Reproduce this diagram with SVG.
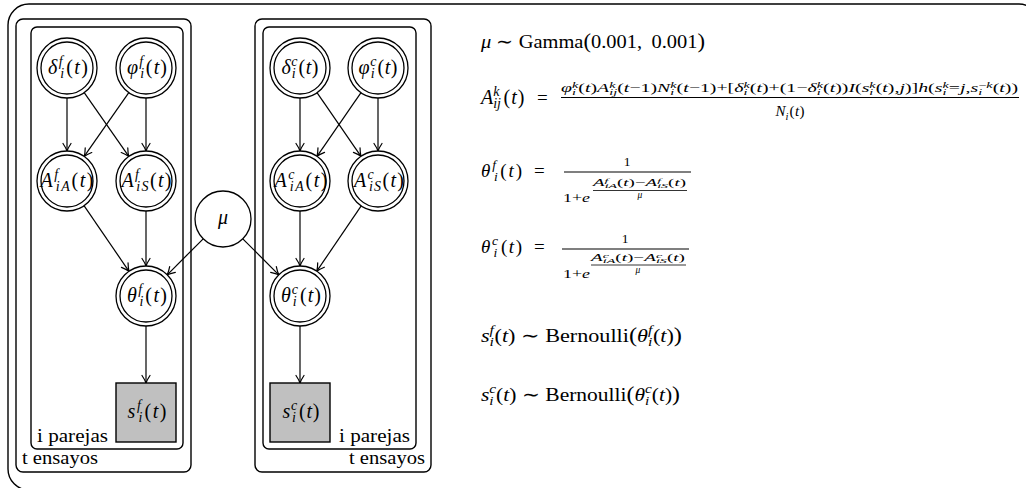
<svg xmlns="http://www.w3.org/2000/svg" width="1026" height="488" viewBox="0 0 1026 488">
<defs>
<style>
text{font-family:"Liberation Serif","Times New Roman",serif;fill:#000}
.i{font-style:italic}
.lb{font-size:20px}
.s{font-size:14px}
.pl{font-size:19px}
.eq{font-size:19px}
.eb{font-size:20px}
.es{font-size:13.5px}
.bp{font-size:21px}
.n{font-size:12.5px}
.ns{font-size:9px}
.fn{font-size:13.5px}
.dn{font-size:15px}
.dns{font-size:10.5px}
.xn{font-size:9.5px}
.x{font-size:7px}
.frame{fill:none;stroke:#000;stroke-width:1.4}
.plate{fill:none;stroke:#000;stroke-width:1.4}
.oc{fill:#fff;stroke:#000;stroke-width:1.3}
.ic{fill:none;stroke:#000;stroke-width:1.3}
.obs{fill:#c0c0c0;stroke:#000;stroke-width:1.4}
.e{fill:none;stroke:#000;stroke-width:1.2;marker-end:url(#ah)}
.bar{stroke:#000;stroke-width:1.1}
.sbar{stroke:#000;stroke-width:0.8}
</style>
<marker id="ah" markerUnits="userSpaceOnUse" viewBox="-9 -5 10 10" refX="0" refY="0" markerWidth="10" markerHeight="10" orient="auto">
<path d="M-7.5,-4 Q-3,-1 0,0 Q-3,1 -7.5,4" fill="none" stroke="#000" stroke-width="1.2" stroke-linecap="round"/>
</marker>
</defs>

<!-- outer frame -->
<rect class="frame" x="8" y="4" width="1032" height="486" rx="21"/>

<!-- plates -->
<g id="plates">
<rect class="plate" x="16" y="19" width="175" height="453" rx="7"/>
<rect class="plate" x="31" y="27" width="152" height="422" rx="6"/>
<rect class="plate" x="255" y="19" width="176" height="453" rx="7"/>
<rect class="plate" x="263" y="27" width="153" height="422" rx="6"/>
<text class="pl" x="37" y="442" textLength="71" lengthAdjust="spacingAndGlyphs">i parejas</text>
<text class="pl" x="22" y="464" textLength="76" lengthAdjust="spacingAndGlyphs">t ensayos</text>
<text class="pl" x="410" y="442" text-anchor="end" textLength="71" lengthAdjust="spacingAndGlyphs">i parejas</text>
<text class="pl" x="425" y="464" text-anchor="end" textLength="76" lengthAdjust="spacingAndGlyphs">t ensayos</text>
</g>

<!-- connectors -->
<g id="edges">
<path class="e" d="M67,98 L67,151"/>
<path class="e" d="M84.2,92.6 L128.8,156.4"/>
<path class="e" d="M128.8,92.6 L84.2,156.4"/>
<path class="e" d="M146,98 L146,151"/>
<path class="e" d="M84,205.7 L129,271.3"/>
<path class="e" d="M146,211 L146,266"/>
<path class="e" d="M203.2,238.8 L167.2,274.8"/>
<path class="e" d="M242.8,238.8 L278.8,274.8"/>
<path class="e" d="M300,211 L300,266"/>
<path class="e" d="M361.2,205.8 L316.8,271.2"/>
<path class="e" d="M300,98 L300,151"/>
<path class="e" d="M317,92.7 L361,156.3"/>
<path class="e" d="M361,92.7 L317,156.3"/>
<path class="e" d="M378,98 L378,151"/>
<path class="e" d="M146,326 L146,383"/>
<path class="e" d="M300,326 L300,383"/>
</g>

<!-- left column: f -->
<g id="delta-f">
<circle class="oc" cx="67" cy="68" r="30"/><circle class="ic" cx="67" cy="68" r="26"/>
<text class="lb" x="68" y="74" text-anchor="middle" textLength="40" lengthAdjust="spacing"><tspan class="i">δ</tspan><tspan class="s i" dy="-8">f</tspan><tspan class="s i" dx="-3.9" dy="12">i</tspan><tspan dy="-4" dx="0.5">(</tspan><tspan class="i">t</tspan>)</text>
</g>
<g id="phi-f">
<circle class="oc" cx="146" cy="68" r="30"/><circle class="ic" cx="146" cy="68" r="26"/>
<text class="lb" x="147" y="74" text-anchor="middle" textLength="40" lengthAdjust="spacing"><tspan class="i">φ</tspan><tspan class="s i" dy="-8">f</tspan><tspan class="s i" dx="-3.9" dy="12">i</tspan><tspan dy="-4" dx="0.5">(</tspan><tspan class="i">t</tspan>)</text>
</g>
<g id="A-f-iA">
<circle class="oc" cx="67" cy="181" r="30"/><circle class="ic" cx="67" cy="181" r="26"/>
<text class="lb" x="67" y="187" text-anchor="middle" textLength="53" lengthAdjust="spacing"><tspan class="i">A</tspan><tspan class="s i" dy="-8">f</tspan><tspan class="s i" dx="-3.9" dy="12">iA</tspan><tspan dy="-4">(</tspan><tspan class="i">t</tspan>)</text>
</g>
<g id="A-f-iS">
<circle class="oc" cx="146" cy="181" r="30"/><circle class="ic" cx="146" cy="181" r="26"/>
<text class="lb" x="146.5" y="187" text-anchor="middle" textLength="50" lengthAdjust="spacing"><tspan class="i">A</tspan><tspan class="s i" dy="-8">f</tspan><tspan class="s i" dx="-3.9" dy="12">iS</tspan><tspan dy="-4">(</tspan><tspan class="i">t</tspan>)</text>
</g>
<g id="theta-f">
<circle class="oc" cx="146" cy="296" r="30"/><circle class="ic" cx="146" cy="296" r="26"/>
<text class="lb" x="147" y="302" text-anchor="middle" textLength="40" lengthAdjust="spacing"><tspan class="i">θ</tspan><tspan class="s i" dy="-8">f</tspan><tspan class="s i" dx="-3.9" dy="12">i</tspan><tspan dy="-4" dx="0.5">(</tspan><tspan class="i">t</tspan>)</text>
</g>
<g id="s-f">
<rect class="obs" x="116" y="383" width="60" height="59"/>
<text class="lb" x="147" y="418" text-anchor="middle" textLength="39" lengthAdjust="spacing"><tspan class="i">s</tspan><tspan class="s i" dy="-8">f</tspan><tspan class="s i" dx="-3.9" dy="12">i</tspan><tspan dy="-4" dx="0.5">(</tspan><tspan class="i">t</tspan>)</text>
</g>

<!-- shared parameter -->
<g id="mu">
<circle class="oc" cx="223" cy="219" r="28"/>
<text class="lb i" x="223" y="224" text-anchor="middle">μ</text>
</g>

<!-- right column: c -->
<g id="delta-c">
<circle class="oc" cx="300" cy="68" r="30"/><circle class="ic" cx="300" cy="68" r="26"/>
<text class="lb" x="300" y="74" text-anchor="middle" textLength="37" lengthAdjust="spacing"><tspan class="i">δ</tspan><tspan class="s i" dy="-8">c</tspan><tspan class="s i" dx="-6.2" dy="12">i</tspan><tspan dy="-4" dx="2.3">(</tspan><tspan class="i">t</tspan>)</text>
</g>
<g id="phi-c">
<circle class="oc" cx="378" cy="68" r="30"/><circle class="ic" cx="378" cy="68" r="26"/>
<text class="lb" x="378" y="74" text-anchor="middle" textLength="39" lengthAdjust="spacing"><tspan class="i">φ</tspan><tspan class="s i" dy="-8">c</tspan><tspan class="s i" dx="-6.2" dy="12">i</tspan><tspan dy="-4" dx="2.3">(</tspan><tspan class="i">t</tspan>)</text>
</g>
<g id="A-c-iA">
<circle class="oc" cx="300" cy="181" r="30"/><circle class="ic" cx="300" cy="181" r="26"/>
<text class="lb" x="301" y="187" text-anchor="middle" textLength="53" lengthAdjust="spacing"><tspan class="i">A</tspan><tspan class="s i" dy="-8">c</tspan><tspan class="s i" dx="-6.2" dy="12">iA</tspan><tspan dy="-4">(</tspan><tspan class="i">t</tspan>)</text>
</g>
<g id="A-c-iS">
<circle class="oc" cx="378" cy="181" r="30"/><circle class="ic" cx="378" cy="181" r="26"/>
<text class="lb" x="379" y="187" text-anchor="middle" textLength="50" lengthAdjust="spacing"><tspan class="i">A</tspan><tspan class="s i" dy="-8">c</tspan><tspan class="s i" dx="-6.2" dy="12">iS</tspan><tspan dy="-4">(</tspan><tspan class="i">t</tspan>)</text>
</g>
<g id="theta-c">
<circle class="oc" cx="300" cy="296" r="30"/><circle class="ic" cx="300" cy="296" r="26"/>
<text class="lb" x="301" y="302" text-anchor="middle" textLength="40" lengthAdjust="spacing"><tspan class="i">θ</tspan><tspan class="s i" dy="-8">c</tspan><tspan class="s i" dx="-6.2" dy="12">i</tspan><tspan dy="-4" dx="2.3">(</tspan><tspan class="i">t</tspan>)</text>
</g>
<g id="s-c">
<rect class="obs" x="270" y="383" width="60" height="59"/>
<text class="lb" x="301" y="418" text-anchor="middle" textLength="37" lengthAdjust="spacing"><tspan class="i">s</tspan><tspan class="s i" dy="-8">c</tspan><tspan class="s i" dx="-6.2" dy="12">i</tspan><tspan dy="-4" dx="2.3">(</tspan><tspan class="i">t</tspan>)</text>
</g>

<!-- model equations -->
<g id="equations">
<text class="eq" x="481" y="48" textLength="224" lengthAdjust="spacingAndGlyphs"><tspan class="i">μ</tspan> ∼ Gamma<tspan class="bp">(</tspan>0.001, <tspan dx="4">0.001</tspan><tspan class="bp">)</tspan></text>

<text class="eb" x="481" y="104"><tspan class="i">A</tspan><tspan class="s i" dy="-8">k</tspan><tspan class="s i" dx="-6.2" dy="12">ij</tspan><tspan dy="-4" dx="2.5">(</tspan><tspan class="i" dx="1">t</tspan><tspan dx="1">)</tspan></text>
<text class="eq" x="537" y="104">=</text>
<text class="n" x="561" y="92" textLength="457" lengthAdjust="spacingAndGlyphs"><tspan class="i">φ</tspan><tspan class="ns i" dy="-4.5">k</tspan><tspan class="ns i" dx="-4" dy="7.5">i</tspan><tspan dx="1.5" dy="-3">(</tspan><tspan class="i">t</tspan>)<tspan class="i">A</tspan><tspan class="ns i" dy="-4.5">k</tspan><tspan class="ns i" dx="-4" dy="7.5">ij</tspan><tspan dy="-3">(</tspan><tspan class="i">t</tspan>−1)<tspan class="i">N</tspan><tspan class="ns i" dy="-4.5">k</tspan><tspan class="ns i" dx="-4" dy="7.5">i</tspan><tspan dx="1.5" dy="-3">(</tspan><tspan class="i">t</tspan>−1)+[<tspan class="i">δ</tspan><tspan class="ns i" dy="-4.5">k</tspan><tspan class="ns i" dx="-4" dy="7.5">i</tspan><tspan dx="1.5" dy="-3">(</tspan><tspan class="i">t</tspan>)+(1−<tspan class="i">δ</tspan><tspan class="ns i" dy="-4.5">k</tspan><tspan class="ns i" dx="-4" dy="7.5">i</tspan><tspan dx="1.5" dy="-3">(</tspan><tspan class="i">t</tspan>))<tspan class="i">I</tspan>(<tspan class="i">s</tspan><tspan class="ns i" dy="-4.5">k</tspan><tspan class="ns i" dx="-4" dy="7.5">i</tspan><tspan dx="1.5" dy="-3">(</tspan><tspan class="i">t</tspan>),<tspan class="i">j</tspan>)]<tspan class="i">h</tspan>(<tspan class="i">s</tspan><tspan class="ns i" dy="-4.5">k</tspan><tspan class="ns i" dx="-4" dy="7.5">i</tspan><tspan dx="1.5" dy="-3">=</tspan><tspan class="i">j</tspan>,<tspan class="i">s</tspan><tspan class="ns" dy="-4.5">−</tspan><tspan class="ns i">k</tspan><tspan class="ns i" dx="-9" dy="7.5">i</tspan><tspan dx="6.5" dy="-3">(</tspan><tspan class="i">t</tspan>))</text>
<line class="bar" x1="561" y1="97.5" x2="1019" y2="97.5"/>
<text class="dn" x="790" y="116" text-anchor="middle"><tspan class="i">N</tspan><tspan class="dns i" dy="3.5">i</tspan><tspan dy="-3.5" dx="1">(</tspan><tspan class="i" dx="0.5">t</tspan><tspan dx="0.5">)</tspan></text>

<text class="eq" x="481" y="177" textLength="41" lengthAdjust="spacing"><tspan class="i">θ</tspan><tspan class="es i" dy="-8">f</tspan><tspan class="es i" dx="-3.8" dy="12">i</tspan><tspan dy="-4" dx="0.5">(</tspan><tspan class="i">t</tspan>)</text>
<text class="eq" x="534" y="177">=</text>
<text class="fn" x="627" y="166" text-anchor="middle">1</text>
<line class="bar" x1="564" y1="172" x2="691" y2="172"/>
<text class="fn" x="563" y="202" textLength="27" lengthAdjust="spacingAndGlyphs">1+<tspan class="i">e</tspan></text>
<text class="xn" x="593" y="186" textLength="93" lengthAdjust="spacingAndGlyphs"><tspan class="i">A</tspan><tspan class="x i" dy="-3.5">f</tspan><tspan class="x i" dx="-1.9" dy="5.5">iA</tspan><tspan dy="-2">(</tspan><tspan class="i">t</tspan>)−<tspan class="i">A</tspan><tspan class="x i" dy="-3.5">f</tspan><tspan class="x i" dx="-1.9" dy="5.5">iS</tspan><tspan dy="-2">(</tspan><tspan class="i">t</tspan>)</text>
<line class="sbar" x1="593" y1="190.5" x2="687" y2="190.5"/>
<text class="xn i" x="640" y="198" text-anchor="middle">μ</text>

<text class="eq" x="481" y="253" textLength="41" lengthAdjust="spacing"><tspan class="i">θ</tspan><tspan class="es i" dy="-8">c</tspan><tspan class="es i" dx="-6" dy="12">i</tspan><tspan dy="-4" dx="2.2">(</tspan><tspan class="i">t</tspan>)</text>
<text class="eq" x="534" y="253">=</text>
<text class="fn" x="625" y="243" text-anchor="middle">1</text>
<line class="bar" x1="562" y1="249" x2="689" y2="249"/>
<text class="fn" x="563" y="278" textLength="27" lengthAdjust="spacingAndGlyphs">1+<tspan class="i">e</tspan></text>
<text class="xn" x="591" y="261" textLength="94" lengthAdjust="spacingAndGlyphs"><tspan class="i">A</tspan><tspan class="x i" dy="-3.5">c</tspan><tspan class="x i" dx="-3.1" dy="5.5">iA</tspan><tspan dy="-2">(</tspan><tspan class="i">t</tspan>)−<tspan class="i">A</tspan><tspan class="x i" dy="-3.5">c</tspan><tspan class="x i" dx="-3.1" dy="5.5">iS</tspan><tspan dy="-2">(</tspan><tspan class="i">t</tspan>)</text>
<line class="sbar" x1="591" y1="265" x2="686" y2="265"/>
<text class="xn i" x="638" y="273" text-anchor="middle">μ</text>

<text class="eq" x="481" y="342" textLength="201" lengthAdjust="spacingAndGlyphs"><tspan class="i">s</tspan><tspan class="es i" dy="-8">f</tspan><tspan class="es i" dx="-3.8" dy="12">i</tspan><tspan dy="-4" dx="0.5">(</tspan><tspan class="i">t</tspan>) ∼ Bernoulli<tspan class="bp">(</tspan><tspan class="i">θ</tspan><tspan class="es i" dy="-8">f</tspan><tspan class="es i" dx="-3.8" dy="12">i</tspan><tspan dy="-4" dx="0.5">(</tspan><tspan class="i">t</tspan>)<tspan class="bp">)</tspan></text>
<text class="eq" x="481" y="401" textLength="199" lengthAdjust="spacingAndGlyphs"><tspan class="i">s</tspan><tspan class="es i" dy="-8">c</tspan><tspan class="es i" dx="-6" dy="12">i</tspan><tspan dy="-4" dx="2.2">(</tspan><tspan class="i">t</tspan>) ∼ Bernoulli<tspan class="bp">(</tspan><tspan class="i">θ</tspan><tspan class="es i" dy="-8">c</tspan><tspan class="es i" dx="-6" dy="12">i</tspan><tspan dy="-4" dx="2.2">(</tspan><tspan class="i">t</tspan>)<tspan class="bp">)</tspan></text>
</g>
</svg>
